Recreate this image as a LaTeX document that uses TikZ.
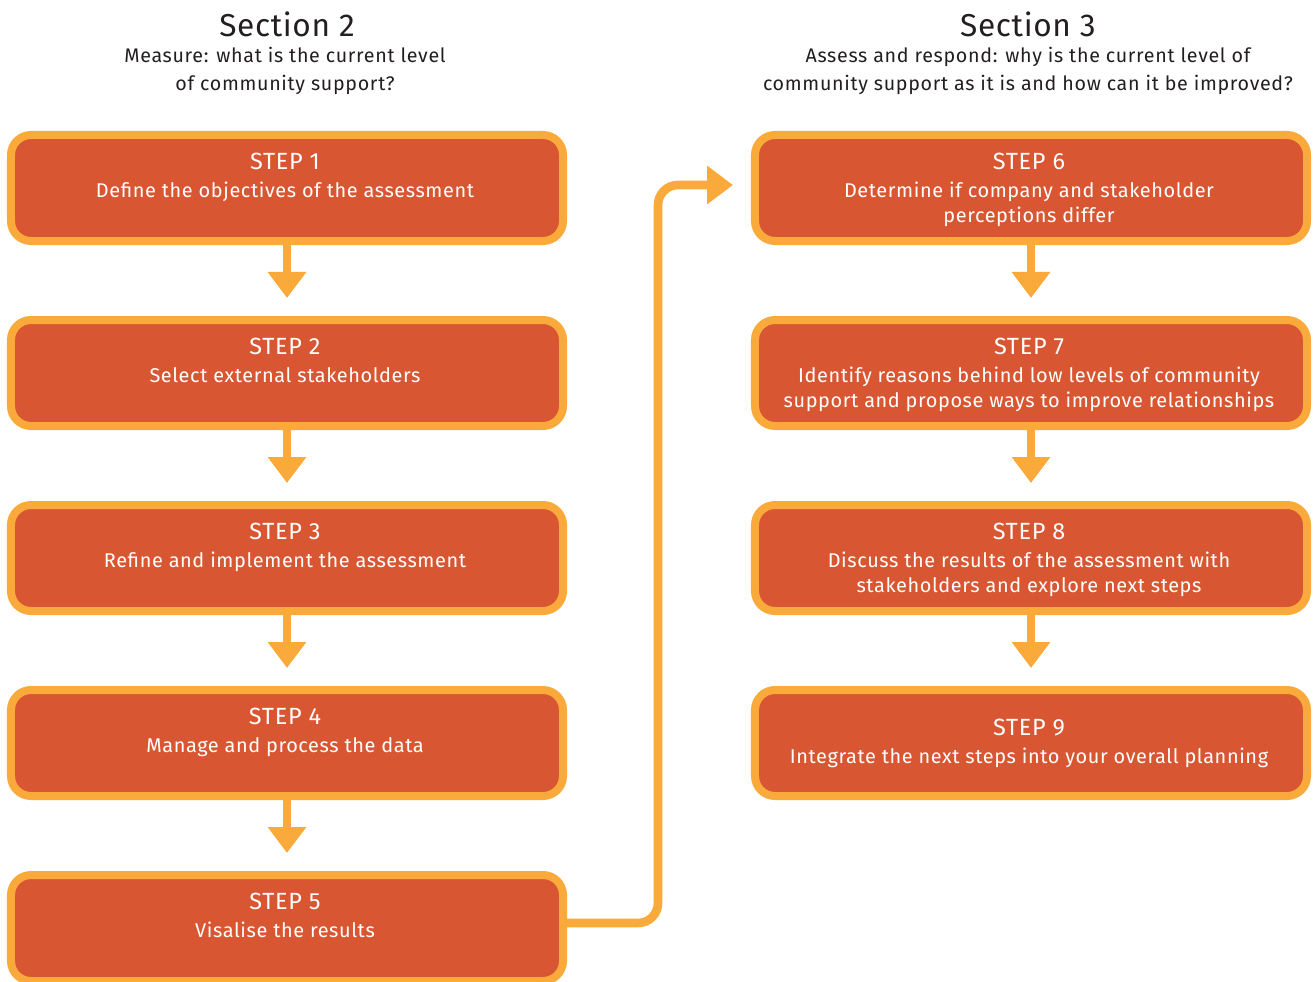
\documentclass[tikz,border=0pt]{standalone}
\usepackage{fontspec}
\setmainfont{Fira Sans}
\usetikzlibrary{arrows.meta,positioning,calc}
\definecolor{boxfill}{RGB}{216,87,50}
\definecolor{boxedge}{RGB}{250,170,58}
\definecolor{headtext}{RGB}{35,31,32}

\tikzset{
    stepbox/.style={draw=boxedge, fill=boxfill, line width=0.24cm, rounded corners=0.6cm,
        minimum width=16.56cm, minimum height=3.18cm, inner sep=0pt},
    steptext/.style={text=white, align=center, inner sep=0pt, xshift=-0.06cm,
        font=\fontsize{17}{21}\selectfont\addfontfeature{LetterSpace=3}},
    flowarrow/.style={draw=boxedge, line width=0.26cm,
        -{Triangle[length=0.78cm,width=1.11cm]}},
    sectitle/.style={text=headtext, font=\fontsize{27}{30}\selectfont\addfontfeature{LetterSpace=2}},
    secsub/.style={text=headtext, align=center,
        font=\fontsize{16.8}{24}\selectfont\addfontfeature{LetterSpace=3.5}},
}
\newcommand{\steptitle}[1]{{\fontsize{20}{24}\selectfont #1}\\[3pt]}

\begin{document}
\begin{tikzpicture}[x=0.03cm,y=-0.03cm]
    \useasboundingbox (0,0) rectangle (1313,982);

    % Section headings
    \node[sectitle] (sec2) at (287,24) {Section 2};
    \node[secsub] (sub2) at (285,71) {Measure: what is the current level\\of community support?};
    \node[sectitle] (sec3) at (1028,24) {Section 3};
    \node[secsub] (sub3) at (1028,71) {Assess and respond: why is the current level of\\community support as it is and how can it be improved?};

    % Left column: measuring
    \node[stepbox] (s1) at (287,188) {};
    \node[stepbox] (s2) at (287,373) {};
    \node[stepbox] (s3) at (287,558) {};
    \node[stepbox] (s4) at (287,743) {};
    \node[stepbox] (s5) at (287,928) {};

    % Right column: assessing and responding
    \node[stepbox] (s6) at (1031,188) {};
    \node[stepbox] (s7) at (1031,373) {};
    \node[stepbox] (s8) at (1031,558) {};
    \node[stepbox] (s9) at (1031,743) {};

    % Box texts
    \node[steptext, below=0.66cm of s1.north] (t1) {\steptitle{STEP 1}Define the objectives of the assessment};
    \node[steptext, below=0.66cm of s2.north] (t2) {\steptitle{STEP 2}Select external stakeholders};
    \node[steptext, below=0.66cm of s3.north] (t3) {\steptitle{STEP 3}Refine and implement the assessment};
    \node[steptext, below=0.66cm of s4.north] (t4) {\steptitle{STEP 4}Manage and process the data};
    \node[steptext, below=0.66cm of s5.north] (t5) {\steptitle{STEP 5}Visalise the results};
    \node[steptext, below=0.66cm of s6.north] (t6) {\steptitle{STEP 6}Determine if company and stakeholder\\perceptions differ};
    \node[steptext, below=0.66cm of s7.north] (t7) {\steptitle{STEP 7}Identify reasons behind low levels of community\\support and propose ways to improve relationships};
    \node[steptext, below=0.66cm of s8.north] (t8) {\steptitle{STEP 8}Discuss the results of the assessment with\\stakeholders and explore next steps};
    \node[steptext] (t9) at (s9) {\steptitle{STEP 9}Integrate the next steps into your overall planning};

    % Arrows down each column
    \foreach \a/\b in {s1/s2,s2/s3,s3/s4,s4/s5,s6/s7,s7/s8,s8/s9} {
        \draw[flowarrow, shorten >=0.54cm] (\a) -- (\b);
    }

    % From step 5 over to step 6
    \coordinate (turn) at (658,923);
    \coordinate (entry) at (755,185);
    \draw[flowarrow, rounded corners=0.6cm, shorten >=0.66cm] (s5.east |- turn) -- (turn) |- (entry);
\end{tikzpicture}
\end{document}
